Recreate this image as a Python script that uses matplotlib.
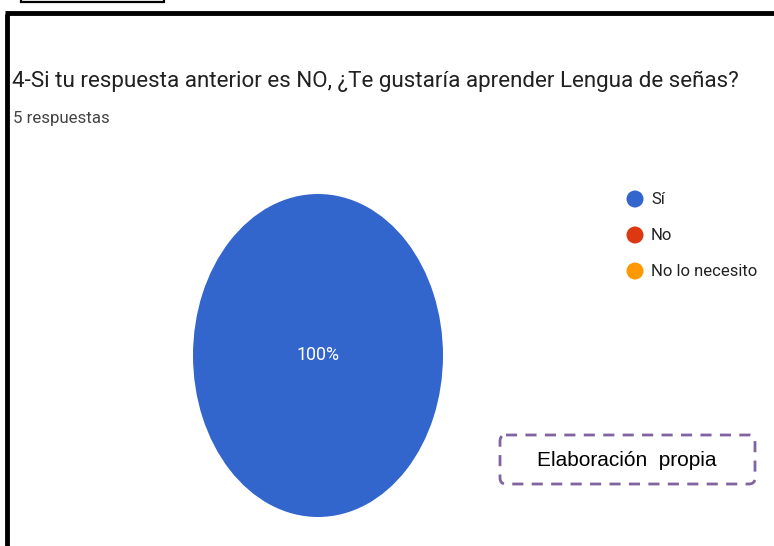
import matplotlib.pyplot as plt
from matplotlib.patches import Rectangle, FancyBboxPatch, Circle

# data
categories = ['Sí', 'No', 'No lo necesito']
values = [5, 0, 0]
colors = ['#3366CC', '#DC3912', '#FF9900']
title = '4-Si tu respuesta anterior es NO, ¿Te gustaría aprender Lengua de señas?'
subtitle = '5 respuestas'
note = 'Elaboración  propia'

W, H = 774, 546
fig = plt.figure(figsize=(W / 100, H / 100), dpi=100)
fig.patch.set_facecolor('white')

# overlay axes in pixel coords for frame and texts
bg = fig.add_axes([0, 0, 1, 1])
bg.set_xlim(0, W)
bg.set_ylim(H, 0)
bg.axis('off')

# small box at top-left (cut off screenshot element)
bg.add_patch(Rectangle((21, -6), 143, 8, fill=False, ec='black', lw=1.6))
# thick frame
bg.plot([7, 7], [H + 5, 14], color='black', lw=3.5, solid_capstyle='butt')
bg.plot([5.3, W + 5], [12.5, 12.5], color='black', lw=3.5, solid_capstyle='butt')

bg.text(12, 81, title, fontsize=16.1, family='Roboto', color='#212121',
        va='center', ha='left')
bg.text(13, 118, subtitle, fontsize=12.2, family='Roboto', color='#444444',
        va='center', ha='left')

# legend
for i, (lab, c) in enumerate(zip(categories, colors)):
    y = 199 + 36 * i
    bg.add_patch(Circle((635, y), 8.5, color=c, ec='none'))
    bg.text(651, y, lab, fontsize=12, family='Roboto', color='#222222',
            va='center', ha='left')

# note box
bg.add_patch(FancyBboxPatch((500, 435), 255, 49,
                            boxstyle='round,pad=0,rounding_size=6',
                            fill=False, ec='#8064A2', lw=2, ls=(0, (4, 3))))
bg.text(627, 461, note, fontsize=15, family='Liberation Sans', color='black',
        va='center', ha='center')

# pie (stretched vertically like in the screenshot)
ax = fig.add_axes([193 / W, (H - 517) / H, 250 / W, 323 / H])
wedges, texts, autotexts = ax.pie(values, colors=colors, startangle=90,
                                  counterclock=False, autopct='%1.0f%%',
                                  pctdistance=0.0,
                                  textprops=dict(color='white', fontsize=12.8,
                                                 family='Roboto'))
for t, v in zip(autotexts, values):
    if v == 0:
        t.set_visible(False)
ax.set_aspect('auto')
ax.set_xlim(-1, 1)
ax.set_ylim(-1, 1)

fig.savefig('out.png', dpi=100)
